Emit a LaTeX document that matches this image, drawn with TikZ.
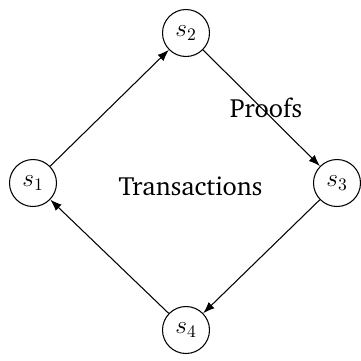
\documentclass[tikz,border=0pt]{standalone}
\usepackage[T1]{fontenc}
\usetikzlibrary{arrows.meta}
\newcommand{\chartertext}{\fontfamily{bch}\selectfont}
\begin{document}
\begin{tikzpicture}[x=0.02cm,y=-0.02cm,
  state/.style={circle,draw,line width=0.6pt,minimum size=0.94cm,inner sep=0pt,
    font=\fontsize{14.4}{17}\selectfont},
  flow/.style={line width=0.6pt,-{Latex[length=2.3mm,width=1.7mm]}},
  caption/.style={font=\chartertext\fontsize{15}{18}\selectfont,inner sep=0pt,anchor=base}]
  \useasboundingbox (0,0) rectangle (361,360);
  \node[state] (s1) at (33,183) {$s_1$};
  \node[state] (s2) at (186,33) {$s_2$};
  \node[state] (s3) at (337,183) {$s_3$};
  \node[state] (s4) at (186,330) {$s_4$};
  \draw[flow] (s1) -- (s2);
  \draw[flow] (s2) -- (s3);
  \draw[flow] (s3) -- (s4);
  \draw[flow] (s4) -- (s1);
  \node[caption] (tx) at (190.5,195) {Transactions};
  \node[caption] (pf) at (266,117) {Proofs};
\end{tikzpicture}
\end{document}
